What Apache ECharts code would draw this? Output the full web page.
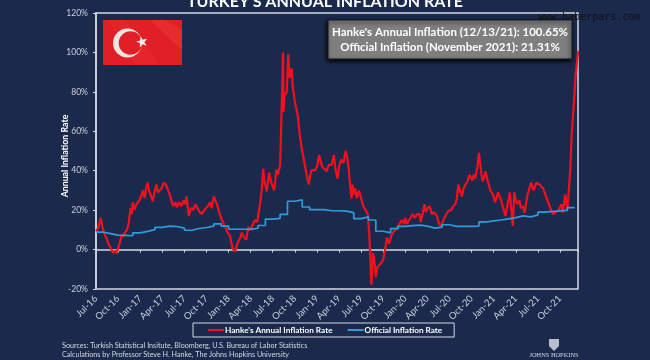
<!DOCTYPE html>
<html><head><meta charset="utf-8">
<style>html,body{margin:0;padding:0;background:#1b2a4c}#c{width:650px;height:360px}</style>
<script src="https://cdn.jsdelivr.net/npm/echarts@6/dist/echarts.min.js"></script></head>
<body><div id="c"></div>
<script>
const tickLabels = ['Jul-16','Oct-16','Jan-17','Apr-17','Jul-17','Oct-17','Jan-18','Apr-18','Jul-18','Oct-18','Jan-19','Apr-19','Jul-19','Oct-19','Jan-20','Apr-20','Jul-20','Oct-20','Jan-21','Apr-21','Jul-21','Oct-21'];
const hanke2016 = [[0,9.3],[0.3,11],[0.5,14],[0.64,16],[0.9,11],[1.2,7.6],[1.5,5],[1.7,2.5],[2,1],[2.3,-1.7],[2.6,-0.5],[2.8,-2],[3,-1],[3.2,3],[3.5,7.6],[3.7,6.5],[3.9,8.6],[4.2,10],[4.4,12.7]];
const hanke2017 = [[4.7,21],[4.85,18],[5,24],[5.2,20],[5.3,19],[5.5,23],[5.7,22],[5.9,25],[6.1,24],[6.4,30],[6.6,26],[6.8,31],[7,34],[7.2,30],[7.4,28],[7.6,26],[7.7,24.5],[8,30],[8.2,33],[8.4,29],[8.6,29.5],[8.9,31],[9.2,34],[9.5,33],[9.8,30],[10.1,27],[10.3,24],[10.5,22],[10.8,24],[11,21.5],[11.3,24],[11.6,22],[11.9,25],[12.1,23],[12.3,27],[12.6,17],[12.9,21],[13.2,20],[13.5,23],[13.8,21],[14.1,19],[14.4,18],[14.7,20],[14.9,19],[15.2,22],[15.5,24],[15.7,21],[16,27],[16.2,26],[16.5,22],[16.8,18]];
const hanke2018 = [[17.1,15],[17.5,12],[17.8,9],[18.2,7],[18.4,3],[18.6,0.3],[18.9,-1],[19.1,2],[19.3,4],[19.6,6],[19.8,8.6],[20.1,6],[20.4,5],[20.7,11.5],[21,10],[21.2,12],[21.6,15],[21.9,14],[22.3,24],[22.5,30],[22.7,41],[22.9,34],[23.2,29.5],[23.5,39],[23.8,34],[24.2,30],[24.5,40.5],[24.7,38],[25,43],[25.2,70],[25.4,100],[25.47,70],[25.6,78],[25.9,80],[26.1,99],[26.3,87],[26.6,92],[26.7,83],[27,75],[27.4,68],[27.7,57],[28,50],[28.4,42],[28.6,38],[28.9,33]];
const hanke2019 = [[29.1,38],[29.3,40.5],[29.7,40],[30,42],[30.3,48],[30.7,42],[31,41],[31.3,39.6],[31.6,43],[31.8,44],[32,43],[32.3,48],[32.5,41],[32.8,36],[33,42],[33.3,45.6],[33.6,44],[33.9,50],[34.1,47],[34.3,41.5],[34.5,33],[34.7,26],[34.85,33],[35,28],[35.2,31],[35.4,26],[35.7,30],[35.9,29],[36.3,22],[36.6,20],[36.9,18],[37.1,8],[37.2,0],[37.4,-18],[37.6,-1.7],[37.75,-4],[38,-14],[38.2,-9],[38.4,-10],[38.7,-7],[39,-5],[39.3,1],[39.5,6],[39.8,3]];
const hanke2020 = [[40.1,7],[40.4,9],[40.9,11],[41.2,13],[41.5,15],[41.8,13],[42,16],[42.2,13],[42.4,12.7],[42.7,16],[43,18],[43.3,16],[43.6,18],[43.9,18],[44.1,14],[44.4,19],[44.6,23],[44.8,19],[45,21],[45.3,22],[45.6,18],[45.9,19],[46.3,17],[46.5,14],[46.8,12],[47.1,14],[47.3,16],[47.8,19.4],[48.2,20],[48.5,22],[48.8,23],[49,26],[49.2,33],[49.5,29],[49.7,27],[49.9,31],[50.1,32],[50.5,35],[50.7,38],[50.9,39],[51.1,35],[51.3,38],[51.5,36],[51.8,42],[52,49],[52.2,49],[52.35,38],[52.5,34.6],[52.7,37],[52.9,39.6]];
const hanke2021 = [[53.1,36],[53.3,35],[53.6,29.5],[53.9,28],[54.2,24],[54.6,29],[55,25],[55.3,21],[55.6,17],[55.9,23],[56.2,29],[56.4,20],[56.6,12],[56.8,29],[57,25],[57.2,23],[57.5,25],[57.7,21],[58,22],[58.2,18.7],[58.6,28],[59.1,34],[59.4,30],[59.8,34],[60.2,33],[60.7,31],[61.1,27],[61.4,24],[61.8,20],[62.1,18],[62.4,19],[62.8,20],[63.2,23],[63.4,18.7],[63.7,28],[64,20],[64.2,20],[64.4,40.5],[64.6,59],[64.85,72],[65.1,87],[65.25,88],[65.45,100.65]];
const officialMonths = [0,1,2,3,4,5,6,7,8,9,10,11,12,13,14,15,16,17,18,19,20,21,22,23,24,25,26,27,28,29,30,31,32,33,34,35,36,37,38,39,40,41,42,43,44,45,46,47,48,49,50,51,52,53,54,55,56,57,58,59,60,61,62,63,64,65];
const officialValues = [8.8,8.05,7.3,7.2,7,8.5,9.2,10.1,11.3,11.9,11.7,10.9,9.8,10.7,11.2,11.9,13,11.9,10.3,10.3,10.2,10.8,12.2,15.4,15.8,17.9,24.5,25.2,21.6,20.3,20.3,19.7,19.7,19.5,18.7,15.7,16.6,15,9.3,8.5,10.6,11.8,12.1,12.4,11.9,10.9,11.4,12.6,11.8,11.8,11.8,11.9,14,14.6,15,15.6,16.2,17.1,16.6,17.5,19,19.3,19.6,19.9,21.3,21.3];
const titleText = "TURKEY'S ANNUAL INFLATION RATE";
const yName = 'Annual Inflation Rate';
const calloutLines = ["Hanke's Annual Inflation (12/13/21): 100.65%","Official Inflation (November 2021): 21.31%"];
const sourceLines = ["Sources: Turkish Statistical Insitute, Bloomberg, U.S. Bureau of Labor Statistics","Calculations by Professor Steve H. Hanke, The Johns Hopkins University"];
const seriesNames = ["Hanke's Annual Inflation Rate","Official Inflation Rate"];

const FONT = 'Lato, "Open Sans", sans-serif';
const BG = '#1b2a4c', FRAME = '#d3d9e4', LABEL = '#c9cfda';
const hanke = [].concat(hanke2016,hanke2017,hanke2018,hanke2019,hanke2020,hanke2021);
const official = officialMonths.map((m,i)=>[m,officialValues[i]]);
const X_MAX = 65.45;

function star(cx,cy,R,r,rot){
  const p=[];
  for(let i=0;i<10;i++){const a=rot+i*Math.PI/5,q=i%2?r:R;p.push([cx+q*Math.cos(a),cy+q*Math.sin(a)]);}
  return p;
}

const chart = echarts.init(document.getElementById('c'),null,{renderer:'canvas'});
chart.setOption({
  backgroundColor:BG,
  animation:false,
  grid:{left:96,right:72,top:13,bottom:71,show:true,borderColor:FRAME,borderWidth:1.5,backgroundColor:'transparent'},
  legend:{
    left:193,top:323,
    padding:[3,12,3,15],itemGap:15,itemWidth:16,itemHeight:2,
    borderColor:FRAME,borderWidth:1,
    icon:'rect',
    textStyle:{color:'#fff',fontFamily:FONT,fontSize:8.2,fontWeight:'bold',padding:[0,0,0,-4]},
    data:seriesNames
  },
  xAxis:[
    {type:'value',min:0,max:X_MAX,interval:3,splitLine:{show:false},
     axisLine:{show:false,onZero:false},axisTick:{show:false},
     axisLabel:{color:LABEL,fontFamily:FONT,fontSize:9.5,rotate:45,margin:8,hideOverlap:false,showMaxLabel:false,
       formatter:v=>(v%3===0&&tickLabels[v/3])||''}},
    {type:'value',min:0,max:X_MAX,interval:3,splitLine:{show:false},position:'bottom',
     axisLine:{show:true,onZero:true,lineStyle:{color:FRAME,width:1.5}},
     axisTick:{show:true,length:3,lineStyle:{color:FRAME,width:1}},
     axisLabel:{show:false}}
  ],
  yAxis:{type:'value',min:-20,max:120,interval:20,splitLine:{show:false},
    axisLine:{show:true,onZero:false,lineStyle:{color:FRAME,width:1.5}},
    axisTick:{show:true,length:3,lineStyle:{color:FRAME}},
    axisLabel:{color:LABEL,fontFamily:FONT,fontSize:8.6,margin:8,formatter:'{value}%'}},
  series:[
    {name:seriesNames[0],type:'line',data:hanke,showSymbol:false,z:3,
     lineStyle:{color:'#f0101e',width:2.2},itemStyle:{color:'#f0101e'}},
    {name:seriesNames[1],type:'line',data:official,step:'end',showSymbol:false,z:4,
     lineStyle:{color:'#2f9bd8',width:1.7},itemStyle:{color:'#2f9bd8'}}
  ],
  graphic:[
    {type:'text',x:325,y:-6,style:{text:titleText,fill:'#fff',font:'bold 16px '+FONT,align:'center',verticalAlign:'top'},z:10},
    {type:'text',x:65,y:156,rotation:Math.PI/2,style:{text:yName,fill:'#fff',font:'bold 8.8px '+FONT,align:'center',verticalAlign:'middle'},z:10},
    {type:'rect',shape:{x:103,y:20,width:79,height:45},style:{fill:'#e01f26'},z:10},
    {type:'polygon',shape:{points:[[125,20],[160,65],[135,65],[108,20]]},style:{fill:'#e4252a'},z:10},
    {type:'polygon',shape:{points:[[150,20],[182,50],[182,30],[165,20]]},style:{fill:'#e62c30'},z:10},
    {type:'circle',shape:{cx:127.5,cy:43,r:14.5},style:{fill:'#eee6e2'},z:11},
    {type:'circle',shape:{cx:130.5,cy:43,r:11.8},style:{fill:'#e01f26'},z:12},
    {type:'polygon',shape:{points:star(142,42,6,2.4,-Math.PI/2-0.25)},style:{fill:'#f2ecea'},z:12},
    {type:'rect',shape:{x:328,y:20,width:244,height:39},style:{fill:'#7f7f7f',stroke:'#14161c',lineWidth:1,shadowBlur:4,shadowColor:'#000',shadowOffsetX:-1,shadowOffsetY:2},z:10},
    {type:'text',x:450,y:32,style:{text:calloutLines[0],fill:'#fff',font:'bold 11.5px '+FONT,align:'center',verticalAlign:'middle'},z:11},
    {type:'text',x:450,y:47,style:{text:calloutLines[1],fill:'#fff',font:'bold 11.5px '+FONT,align:'center',verticalAlign:'middle'},z:11},
    {type:'text',x:538,y:17,style:{text:'www.haberpars.com',fill:'#101010',font:'10px "DejaVu Sans Mono", monospace',verticalAlign:'middle'},z:12},
    {type:'text',x:62,y:346,style:{text:sourceLines[0],fill:'#d3d8e2',font:'7.2px '+FONT,verticalAlign:'middle'},z:10},
    {type:'text',x:62,y:355,style:{text:sourceLines[1],fill:'#d3d8e2',font:'7.2px '+FONT,verticalAlign:'middle'},z:10},
    {type:'polygon',shape:{points:[[549,339],[559,339],[559,346],[554,351],[549,346]]},style:{fill:'#b9c0cc'},z:10},
    {type:'text',x:554,y:355,style:{text:'JOHNS HOPKINS',fill:'#d3d8e2',font:'6.4px "Liberation Serif", serif',align:'center',verticalAlign:'middle'},z:10}
  ]
});
</script></body></html>
